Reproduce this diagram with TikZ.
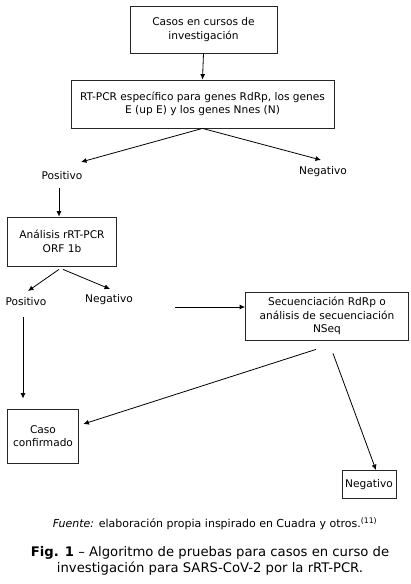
\documentclass[tikz,border=0pt]{standalone}
\usepackage{fontspec}
\setmainfont{DejaVu Sans}
\usetikzlibrary{arrows.meta}
\begin{document}
\begin{tikzpicture}[x=1pt,y=-1pt,
  box/.style={draw=black!85,line width=0.8pt,align=center,inner sep=0pt,
    font=\fontsize{10.6}{13.5}\selectfont},
  lbl/.style={inner sep=0pt,font=\fontsize{10.6}{13.5}\selectfont},
  arr/.style={line width=0.8pt,-{Latex[length=5.5pt,width=5pt]}}]
\useasboundingbox (0,0) rectangle (411,584);
\node[box,minimum width=147pt,minimum height=47pt] (b1) at (203.5,29.5) {Casos en cursos de\\investigación};
\node[box,minimum width=263pt,minimum height=48pt] (b2) at (202.5,104) {RT-PCR específico para genes RdRp, los genes\\E (up E) y los genes Nnes (N)};
\node[lbl] (pos1) at (62,176) {Positivo};
\node[lbl] (neg1) at (323,172) {Negativo};
\node[box,minimum width=109pt,minimum height=49pt] (b3) at (62,241.5) {Análisis rRT-PCR\\ORF 1b};
\node[lbl] (pos2) at (26,302) {Positivo};
\node[lbl] (neg2) at (109,300) {Negativo};
\node[box,minimum width=163pt,minimum height=48pt] (b4) at (327,316) {Secuenciación RdRp o\\análisis de secuenciación\\NSeq};
\node[box,minimum width=71pt,minimum height=54pt] (b5) at (43,436) {Caso\\confirmado};
\node[box,minimum width=54pt,minimum height=28pt] (b6) at (369,484.5) {Negativo};
\coordinate (c1) at (175,307);
\draw[arr] (b1.south) -- (b2.north);
\draw[arr] (b2.south) -- ([shift={(19,-14)}]pos1.center);
\draw[arr] (b2.south) -- ([shift={(-2,-12)}]neg1.center);
\draw[arr] ([shift={(-3,12)}]pos1.center) -- ([shift={(-3,0)}]b3.north);
\draw[arr] ([shift={(-3,3)}]b3.south) -- ([shift={(2,-11)}]pos2.center);
\draw[arr] ([shift={(1,3)}]b3.south) -- ([shift={(1,-11)}]neg2.center);
\draw[arr] (c1) -- (c1 -| b4.west);
\draw[arr] ([shift={(-3,15)}]pos2.center) -- ([shift={(-20,-10)}]b5.north);
\draw[arr] ([shift={(-11,9)}]b4.south) -- ([shift={(4.5,-12)}]b5.east);
\draw[arr] ([shift={(6,13)}]b4.south) -- ([shift={(7,0)}]b6.north);
\node[lbl,font=\fontsize{11}{13}\selectfont] (src) at (215,524) {\textit{Fuente:} elaboración propia inspirado en Cuadra y otros.\textsuperscript{(11)}};
\node[align=center,inner sep=0pt,font=\fontsize{13.2}{16.5}\selectfont] (cap) at (210,561) {\textbf{Fig. 1} – Algoritmo de pruebas para casos en curso de\\investigación para SARS-CoV-2 por la rRT-PCR.};
\end{tikzpicture}
\end{document}
